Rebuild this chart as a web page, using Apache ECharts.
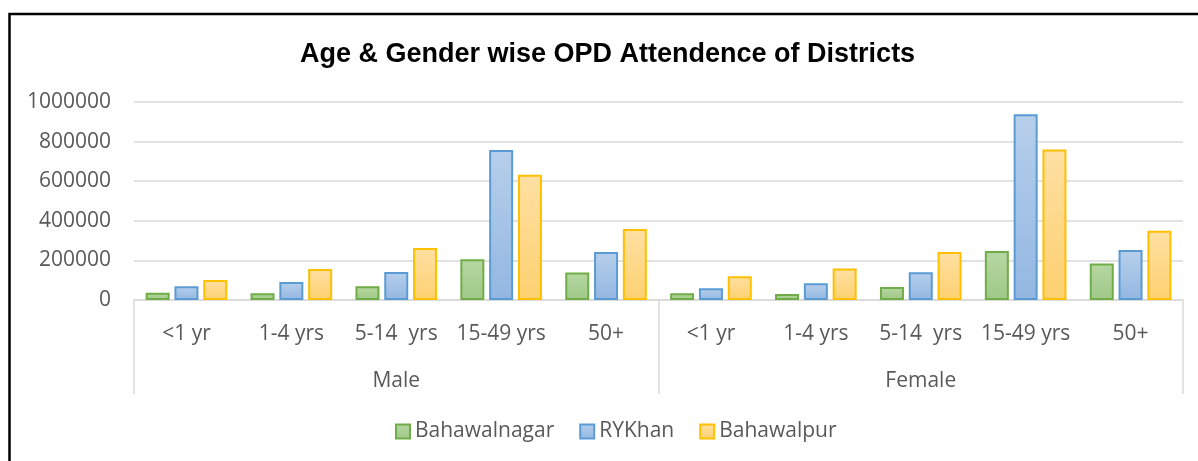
<!DOCTYPE html>
<html>
<head>
<meta charset="utf-8">
<script src="https://cdn.jsdelivr.net/npm/echarts@6/dist/echarts.min.js"></script>
<style>
html,body{margin:0;padding:0;background:#fff;}
#chart{width:1198px;height:461px;}
</style>
</head>
<body>
<div id="chart"></div>
<script>
var titleText = 'Age & Gender wise OPD Attendence of Districts';
var ageGroups = ['<1 yr', '1-4 yrs', '5-14  yrs', '15-49 yrs', '50+'];
var genders = ['Male', 'Female'];
var seriesNames = ['Bahawalnagar', 'RYKhan', 'Bahawalpur'];
var yTicks = [0, 200000, 400000, 600000, 800000, 1000000];

var bahawalnagarMale = [37000, 34000, 69000, 206000, 139000];
var bahawalnagarFemale = [34000, 30000, 66000, 247000, 184000];
var rykhanMale = [69000, 91000, 142000, 758000, 242000];
var rykhanFemale = [59000, 84000, 140000, 938000, 252000];
var bahawalpurMale = [101000, 157000, 262000, 632000, 358000];
var bahawalpurFemale = [120000, 159000, 242000, 760000, 350000];

var seriesData = [
  bahawalnagarMale.concat(bahawalnagarFemale),
  rykhanMale.concat(rykhanFemale),
  bahawalpurMale.concat(bahawalpurFemale)
];

var styles = [
  { top: '#b6d7a2', bottom: '#9fc888', border: '#70ad47' },
  { top: '#b6cfeb', bottom: '#93b7e1', border: '#5b9bd5' },
  { top: '#ffe0a3', bottom: '#fdd170', border: '#ffc000' }
];

var xCats = [];
genders.forEach(function (g) {
  ageGroups.forEach(function (a) { xCats.push(g + '|' + a); });
});

var labelFont = '"Open Sans", sans-serif';
var textColor = '#595959';
var labelSize = 21;

var series = seriesNames.map(function (name, i) {
  return {
    name: name,
    type: 'bar',
    xAxisIndex: 0,
    barWidth: 24,
    barGap: '20%',
    data: seriesData[i],
    itemStyle: {
      color: new echarts.graphic.LinearGradient(0, 0, 0, 1, [
        { offset: 0, color: styles[i].top },
        { offset: 1, color: styles[i].bottom }
      ]),
      borderColor: styles[i].border,
      borderWidth: 2
    }
  };
});

var chart = echarts.init(document.getElementById('chart'));
chart.setOption({
  animation: false,
  backgroundColor: '#fff',
  title: {
    text: titleText,
    left: 300,
    top: 41,
    padding: 0,
    textStyle: {
      fontFamily: '"Liberation Sans", Arial, sans-serif',
      fontWeight: 'bold',
      fontSize: 27,
      color: '#000'
    }
  },
  legend: {
    data: seriesNames,
    top: 416,
    left: 390,
    itemWidth: 14,
    itemHeight: 14,
    itemGap: 25,
    icon: 'rect',
    textStyle: { fontFamily: labelFont, fontSize: labelSize, color: textColor }
  },
  grid: { left: 134, right: 15, top: 102, bottom: 161, containLabel: false },
  xAxis: [
    {
      type: 'category',
      data: xCats,
      position: 'bottom',
      offset: 0,
      axisLine: { show: true, lineStyle: { color: '#d9d9d9', width: 1.5 } },
      axisTick: { show: false },
      axisLabel: {
        interval: 0,
        margin: 24,
        fontFamily: labelFont,
        fontSize: labelSize,
        color: textColor,
        formatter: function (v) { return v.split('|')[1]; }
      },
      splitLine: { show: false }
    },
    {
      type: 'category',
      data: genders,
      position: 'bottom',
      offset: 0,
      axisLine: { show: false },
      axisTick: { show: true, length: 94, lineStyle: { color: '#d9d9d9', width: 1.5 } },
      axisLabel: {
        interval: 0,
        margin: 71,
        fontFamily: labelFont,
        fontSize: labelSize,
        color: textColor
      },
      splitLine: { show: false }
    }
  ],
  yAxis: {
    type: 'value',
    min: yTicks[0],
    max: yTicks[yTicks.length - 1],
    interval: yTicks[1] - yTicks[0],
    axisLine: { show: false },
    axisTick: { show: false },
    axisLabel: {
      margin: 23,
      fontFamily: labelFont,
      fontSize: labelSize,
      color: textColor,
      formatter: function (v) { return String(v); }
    },
    splitLine: { show: true, lineStyle: { color: '#d9d9d9', width: 1.5 } }
  },
  graphic: [
    {
      type: 'rect',
      shape: { x: 9.5, y: 14, width: 1400, height: 700 },
      style: { fill: null, stroke: '#000', lineWidth: 2.5 },
      silent: true,
      z: 100
    }
  ],
  series: series
});
</script>
</body>
</html>
